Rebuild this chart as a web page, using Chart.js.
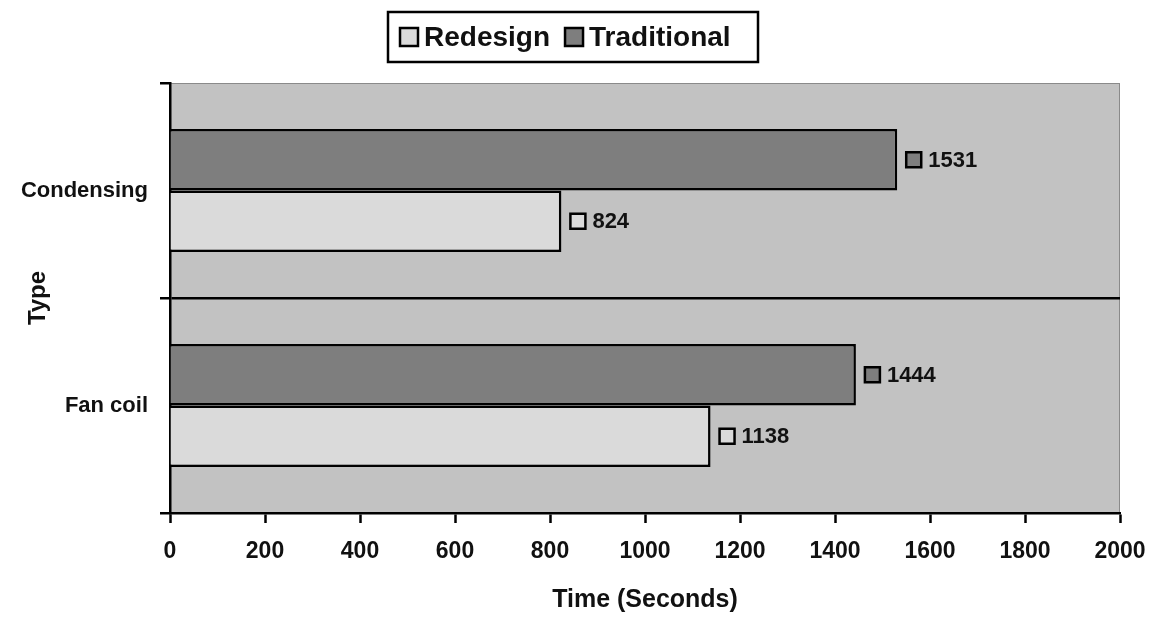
<!DOCTYPE html>
<html>
<head>
<meta charset="utf-8">
<script src="https://cdn.jsdelivr.net/npm/chart.js@4.4.0/dist/chart.umd.min.js"></script>
<style>
html,body{margin:0;padding:0;background:#fff;}
canvas{display:block;}
</style>
</head>
<body>
<canvas id="c" width="1153" height="619"></canvas>
<script>
const categories = ['Condensing', 'Fan coil'];
const traditional = [1531, 1444];
const redesign = [824, 1138];
const xTicks = [0, 200, 400, 600, 800, 1000, 1200, 1400, 1600, 1800, 2000];
const legendOrder = ['Redesign', 'Traditional'];

const FONT = '"Liberation Sans", Arial, sans-serif';
const COL_TRAD = '#7e7e7e';
const COL_RED = '#dadada';
const COL_BG = '#c2c2c2';

const bgPlugin = {
  id: 'bg',
  beforeDraw(chart) {
    const {ctx, chartArea: a} = chart;
    ctx.save();
    ctx.fillStyle = COL_BG;
    ctx.fillRect(a.left, a.top, a.right - a.left, a.bottom - a.top);
    ctx.strokeStyle = '#8a8a8a';
    ctx.lineWidth = 1;
    ctx.strokeRect(a.left + 0.5, a.top + 0.5, a.right - a.left - 1, a.bottom - a.top - 1);
    ctx.restore();
  }
};

const labelPlugin = {
  id: 'vals',
  afterDatasetsDraw(chart) {
    const {ctx} = chart;
    ctx.save();
    chart.data.datasets.forEach((ds, di) => {
      const meta = chart.getDatasetMeta(di);
      meta.data.forEach((el, i) => {
        const x = el.x, y = el.y;
        const s = 15;
        ctx.fillStyle = ds.backgroundColor;
        ctx.fillRect(x + 9, y - s / 2, s, s);
        ctx.strokeStyle = '#000';
        ctx.lineWidth = 2.5;
        ctx.strokeRect(x + 9, y - s / 2, s, s);
        ctx.fillStyle = '#111';
        ctx.font = 'bold 22px ' + FONT;
        ctx.textAlign = 'left';
        ctx.textBaseline = 'middle';
        ctx.fillText(String(ds.data[i]), x + 31, y + 1);
      });
    });
    ctx.restore();
  }
};

const legendPlugin = {
  id: 'customLegend',
  afterDraw(chart) {
    const {ctx} = chart;
    ctx.save();
    const bx = 388, by = 12, bw = 370, bh = 50;
    ctx.fillStyle = '#fff';
    ctx.fillRect(bx, by, bw, bh);
    ctx.strokeStyle = '#000';
    ctx.lineWidth = 2.5;
    ctx.strokeRect(bx, by, bw, bh);
    ctx.font = 'bold 28px ' + FONT;
    ctx.textBaseline = 'middle';
    ctx.textAlign = 'left';
    let x = bx + 12;
    const cy = by + bh / 2;
    legendOrder.forEach(name => {
      const ds = chart.data.datasets.find(d => d.label === name);
      ctx.fillStyle = ds.backgroundColor;
      ctx.fillRect(x, cy - 9, 18, 18);
      ctx.strokeStyle = '#000';
      ctx.lineWidth = 2.5;
      ctx.strokeRect(x, cy - 9, 18, 18);
      ctx.fillStyle = '#111';
      ctx.fillText(name, x + 24, cy + 1);
      x += 24 + ctx.measureText(name).width + 15;
    });
    ctx.restore();
  }
};

new Chart(document.getElementById('c'), {
  type: 'bar',
  data: {
    labels: categories,
    datasets: [
      { label: 'Traditional', data: traditional, backgroundColor: COL_TRAD, borderColor: '#000', borderWidth: 2.5, borderSkipped: 'start' },
      { label: 'Redesign', data: redesign, backgroundColor: COL_RED, borderColor: '#000', borderWidth: 2.5, borderSkipped: 'start' }
    ]
  },
  options: {
    indexAxis: 'y',
    responsive: false,
    devicePixelRatio: 1,
    animation: false,
    layout: { padding: { top: 83, right: 33, left: 0, bottom: 0 } },
    datasets: { bar: { categoryPercentage: 0.572, barPercentage: 1.0 } },
    plugins: { legend: { display: false }, tooltip: { enabled: false } },
    scales: {
      x: {
        min: 0, max: 2000,
        afterBuildTicks(scale) { scale.ticks = xTicks.map(v => ({ value: v })); },
        afterFit(scale) { scale.height = 106; scale.paddingLeft = 0; scale.paddingRight = 0; },
        border: { display: true, color: '#000', width: 2.5 },
        grid: { drawOnChartArea: false, drawTicks: true, tickLength: 10, tickColor: '#000', tickWidth: 2.5 },
        ticks: { color: '#111', padding: 15, maxRotation: 0, callback: v => String(v), font: { family: FONT, size: 23, weight: 'bold' } },
        title: { display: true, text: 'Time (Seconds)', color: '#111', padding: { top: 0, bottom: 4 }, font: { family: FONT, size: 25, weight: 'bold' } }
      },
      y: {
        afterFit(scale) { scale.width = 170; },
        border: { display: true, color: '#000', width: 2.5 },
        grid: {
          offset: true,
          drawOnChartArea: true,
          color: c => (c.index === 1 ? '#000' : 'rgba(0,0,0,0)'),
          lineWidth: 2.5,
          tickColor: '#000',
          tickWidth: 2.5,
          tickLength: 10
        },
        ticks: { color: '#111', padding: 12, font: { family: FONT, size: 22, weight: 'bold' } },
        title: { display: true, text: 'Type', color: '#111', padding: { top: 24, bottom: 0 }, font: { family: FONT, size: 24, weight: 'bold' } }
      }
    }
  },
  plugins: [bgPlugin, labelPlugin, legendPlugin]
});
</script>
</body>
</html>
